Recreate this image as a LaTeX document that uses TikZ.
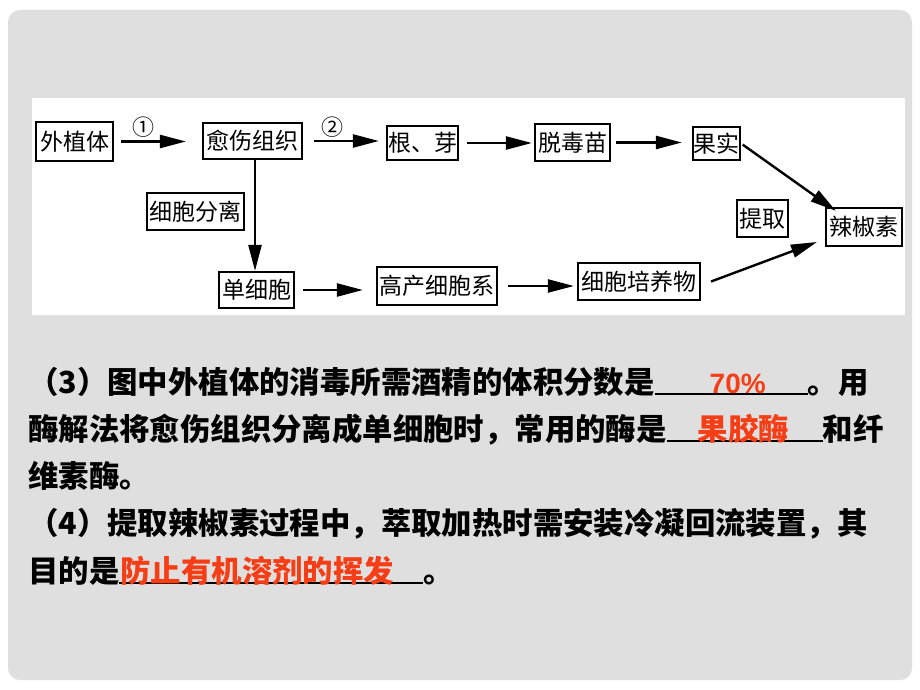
\documentclass[tikz,border=0pt]{standalone}
\usepackage{fontspec}
\setmainfont{Noto Sans CJK SC}
\newfontfamily\cjk{Noto Sans CJK SC}
\newfontfamily\latinb{Liberation Sans}
\usetikzlibrary{arrows.meta}
\definecolor{bggray}{RGB}{223,223,223}
\definecolor{ansred}{RGB}{245,62,22}
\newcommand\ansblank[2]{\rlap{\rule[-1.8pt]{#1}{1.8pt}}\makebox[#1][l]{#2}}
\begin{document}
\begin{tikzpicture}[x=1pt,y=-1pt,
  box/.style={draw=black,line width=2.2pt,inner sep=0pt,font=\cjk\fontsize{23}{23}\selectfont,text=black},
  flow/.style={line width=2.4pt,-{Triangle[length=26pt,width=13pt]}},
  qtext/.style={anchor=base west,inner sep=0pt,font=\cjk\bfseries\fontsize{30.4}{30.4}\selectfont},
  circnum/.style={inner sep=0pt,font=\cjk\fontsize{22}{22}\selectfont}
]
\useasboundingbox (0,0) rectangle (920,690);
\fill[white] (0,0) rectangle (920,690);
\fill[bggray, rounded corners=12pt] (8,10) rectangle (912,680);
\fill[white] (32,98) rectangle (905,315);

% boxes
\node[box,minimum width=77pt,minimum height=39pt] (wzt) at (74.5,141.5) {外植体};
\node[box,minimum width=99pt,minimum height=36pt] (yszz) at (252.5,141) {愈伤组织};
\node[box,minimum width=71pt,minimum height=34pt] (gy) at (422.5,143) {根、芽};
\node[box,minimum width=75pt,minimum height=37pt] (tdm) at (572.5,142.5) {脱毒苗};
\node[box,minimum width=47pt,minimum height=33pt] (gs) at (716.5,143.5) {果实};
\node[box,minimum width=76pt,minimum height=38pt] (ljs) at (864,227) {辣椒素};
\node[box,minimum width=51pt,minimum height=37pt] (tq) at (762.5,218.5) {提取};
\node[box,minimum width=97pt,minimum height=37pt] (xbfl) at (195.5,211.5) {细胞分离};
\node[box,minimum width=75pt,minimum height=36pt] (dxb) at (256.5,290) {单细胞};
\node[box,minimum width=120pt,minimum height=38pt] (gcxbx) at (437,286) {高产细胞系};
\node[box,minimum width=122pt,minimum height=37pt] (xbpyw) at (639,281.5) {细胞培养物};

\node[circnum] (c1) at (143,127) {①};
\node[circnum] (c2) at (332,127) {②};

% connectors
\draw[flow,shorten <=7pt,shorten >=16pt] (wzt.east) -- (wzt.east -| yszz.west);
\draw[flow,shorten <=11pt,shorten >=7pt] (yszz.east) -- (yszz.east -| gy.west);
\draw[flow,shorten <=8pt,shorten >=2pt] (gy.east) -- (gy.east -| tdm.west);
\draw[flow,shorten <=5pt,shorten >=10pt] (tdm.east) -- (tdm.east -| gs.west);
\draw[flow] ([xshift=2.5pt]yszz.south) -- ([xshift=2.5pt]yszz.south |- dxb.north);
\draw[flow,shorten <=8pt,shorten >=13pt] (dxb.east) -- (dxb.east -| gcxbx.west);
\draw[flow,shorten <=10pt,shorten >=3pt] (gcxbx.east) -- (gcxbx.east -| xbpyw.west);
\draw[flow,shorten <=2pt] (gs.east) -- ([xshift=11pt,yshift=-4pt]ljs.north west);
\draw[flow] ([xshift=10pt]xbpyw.east) -- ([xshift=-8pt,yshift=-15pt]ljs.west);

% question text
\node[qtext] (l1) at (28,393) {（3）图中外植体的消毒所需酒精的体积分数是\ansblank{153pt}{\hspace{55pt}{\latinb\bfseries\fontsize{28}{28}\selectfont\color{ansred}70\%}}。用};
\node[qtext] (l2) at (28,440) {酶解法将愈伤组织分离成单细胞时，常用的酶是\ansblank{156pt}{\hspace{31pt}{\color{ansred}果胶酶}}和纤};
\node[qtext] (l3) at (28,487) {维素酶。};
\node[qtext] (l4) at (28,534) {（4）提取辣椒素过程中，萃取加热时需安装冷凝回流装置，其};
\node[qtext] (l5) at (28,582) {目的是\ansblank{304pt}{\hspace{1pt}{\color{ansred}防止有机溶剂的挥发}}。};
\end{tikzpicture}
\end{document}
